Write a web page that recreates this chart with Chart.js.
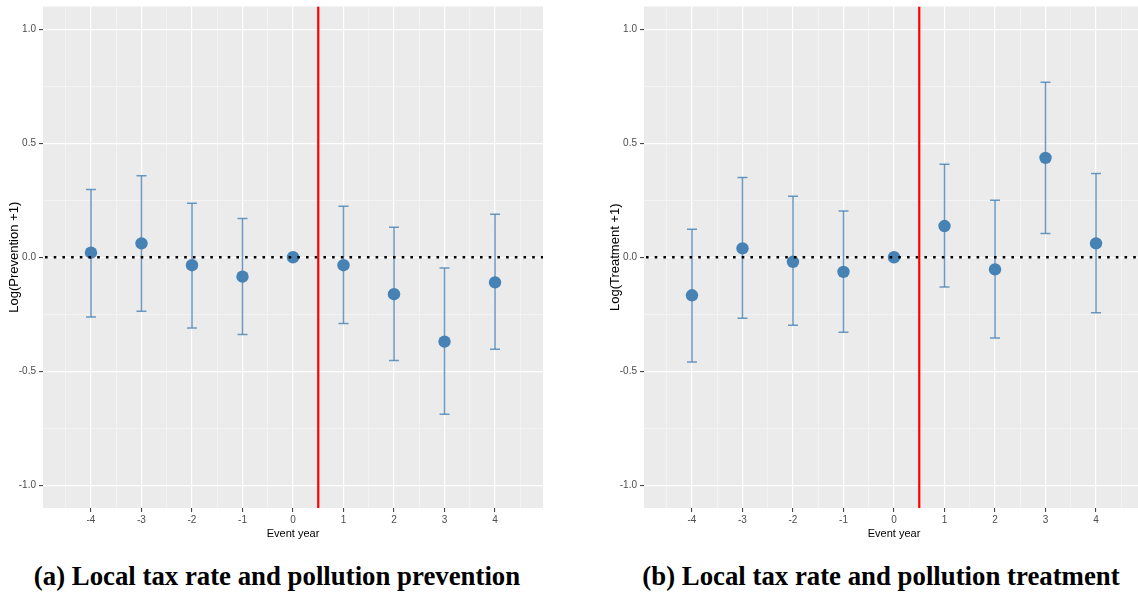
<!DOCTYPE html>
<html>
<head>
<meta charset="utf-8">
<script src="https://cdn.jsdelivr.net/npm/chart.js@4"></script>
<style>
  html, body { margin: 0; padding: 0; background: #fff; width: 1138px; height: 592px; overflow: hidden; }
  .panel { position: absolute; top: 0; }
  .caption { position: absolute; top: 560px; font: bold 26.8px "Liberation Serif", "Times New Roman", serif; line-height: 32px; color: #000; text-align: center; white-space: nowrap; }
</style>
</head>
<body>
<canvas id="prevention" class="panel" width="560" height="545" style="left:0px"></canvas>
<canvas id="treatment" class="panel" width="560" height="545" style="left:601px"></canvas>
<div class="caption" style="left:17px; width:520px;">(a) Local tax rate and pollution prevention</div>
<div class="caption" style="left:621px; width:520px;">(b) Local tax rate and pollution treatment</div>
<script>
// 数据
var eventYears = [-4, -3, -2, -1, 0, 1, 2, 3, 4];
var preventionEst = [0.020, 0.061, -0.035, -0.085, 0, -0.035, -0.162, -0.370, -0.110];
var preventionLo  = [-0.262, -0.237, -0.310, -0.339, 0, -0.291, -0.453, -0.689, -0.404];
var preventionHi  = [0.297, 0.358, 0.237, 0.170, 0, 0.224, 0.132, -0.047, 0.189];
var treatmentEst = [-0.167, 0.039, -0.020, -0.064, 0, 0.137, -0.053, 0.436, 0.061];
var treatmentLo  = [-0.460, -0.268, -0.298, -0.329, 0, -0.130, -0.354, 0.104, -0.244];
var treatmentHi  = [0.123, 0.350, 0.268, 0.203, 0, 0.408, 0.250, 0.768, 0.367];
var yTickValues = [-1.0, -0.75, -0.5, -0.25, 0, 0.25, 0.5, 0.75, 1.0];
var xTickValues = [-4.5, -4, -3.5, -3, -2.5, -2, -1.5, -1, -0.5, 0, 0.5, 1, 1.5, 2, 2.5, 3, 3.5, 4, 4.5];
var treatmentStart = 0.5;
var zeroLine = 0;

var steelblue = '#4682B4';

function isMajor(v, step) {
  var r = v / step;
  return Math.abs(r - Math.round(r)) < 1e-9;
}

// ggplot 风格的背景与参考线
var ggPanel = {
  id: 'ggPanel',
  beforeDraw: function(chart) {
    var a = chart.chartArea, ctx = chart.ctx;
    ctx.save();
    ctx.fillStyle = '#EBEBEB';
    ctx.fillRect(a.left, a.top, a.right - a.left, a.bottom - a.top);
    ctx.restore();
  },
  afterDatasetsDraw: function(chart) {
    var a = chart.chartArea, ctx = chart.ctx;
    var y0 = chart.scales.y.getPixelForValue(zeroLine);
    var xv = chart.scales.x.getPixelForValue(treatmentStart);
    ctx.save();
    ctx.beginPath();
    ctx.rect(a.left, a.top, a.right - a.left, a.bottom - a.top);
    ctx.clip();
    ctx.strokeStyle = '#000';
    ctx.lineWidth = 2.6;
    ctx.setLineDash([2.6, 6.1]);
    ctx.beginPath();
    ctx.moveTo(a.left + 2, y0);
    ctx.lineTo(a.right, y0);
    ctx.stroke();
    ctx.setLineDash([]);
    ctx.strokeStyle = '#FF0000';
    ctx.lineWidth = 2.2;
    ctx.beginPath();
    ctx.moveTo(xv, a.top);
    ctx.lineTo(xv, a.bottom);
    ctx.stroke();
    ctx.restore();
  }
};

function errorBarPoints(lo, hi) {
  var pts = [];
  for (var i = 0; i < eventYears.length; i++) {
    pts.push({x: eventYears[i], y: lo[i]});
    pts.push({x: eventYears[i], y: hi[i]});
    pts.push({x: eventYears[i], y: null});
  }
  return pts;
}

function makeChart(id, est, lo, hi, yTitle) {
  var ctx = document.getElementById(id).getContext('2d');
  var pts = eventYears.map(function(x, i) { return {x: x, y: est[i]}; });
  return new Chart(ctx, {
    type: 'scatter',
    data: {
      datasets: [{
        data: pts,
        pointRadius: 6.2,
        pointBackgroundColor: steelblue,
        pointBorderWidth: 0,
        showLine: false
      }, {
        data: errorBarPoints(lo, hi),
        showLine: true,
        spanGaps: false,
        borderColor: 'rgba(70,130,180,0.8)',
        borderWidth: 1.5,
        pointStyle: 'line',
        pointRadius: 5,
        pointBorderColor: 'rgba(70,130,180,0.8)',
        pointBorderWidth: 1.5
      }]
    },
    options: {
      responsive: false,
      animation: false,
      devicePixelRatio: 1,
      layout: { padding: { left: 0, top: 6, right: 17, bottom: 0 } },
      plugins: { legend: { display: false }, tooltip: { enabled: false } },
      scales: {
        x: {
          type: 'linear',
          min: -4.95,
          max: 4.95,
          afterBuildTicks: function(scale) { scale.ticks = xTickValues.map(function(v) { return {value: v}; }); },
          afterFit: function(scale) { scale.height = 37; scale.paddingLeft = 0; scale.paddingRight = 0; },
          border: { display: false },
          grid: {
            color: function(c) { return isMajor(c.tick.value, 1) ? '#FFFFFF' : '#F5F5F5'; },
            lineWidth: function(c) { return isMajor(c.tick.value, 1) ? 1.2 : 0.8; },
            tickColor: function(c) { return isMajor(c.tick.value, 1) ? '#333333' : 'rgba(0,0,0,0)'; },
            tickLength: 4,
            tickWidth: 1
          },
          ticks: {
            autoSkip: false,
            maxRotation: 0,
            padding: 2,
            color: '#4D4D4D',
            font: { family: 'Liberation Sans, Arial, sans-serif', size: 10 },
            callback: function(v) { return isMajor(v, 1) ? String(v) : ''; }
          },
          title: {
            display: true,
            text: 'Event year',
            color: '#000',
            font: { family: 'Liberation Sans, Arial, sans-serif', size: 11 },
            padding: { top: 0, bottom: 4 }
          }
        },
        y: {
          type: 'linear',
          min: -1.1,
          max: 1.1,
          afterBuildTicks: function(scale) { scale.ticks = yTickValues.map(function(v) { return {value: v}; }); },
          afterFit: function(scale) { scale.width = 43; scale.paddingTop = 0; scale.paddingBottom = 0; },
          border: { display: false },
          grid: {
            color: function(c) { return isMajor(c.tick.value, 0.5) ? '#FFFFFF' : '#F5F5F5'; },
            lineWidth: function(c) { return isMajor(c.tick.value, 0.5) ? 1.2 : 0.8; },
            tickColor: function(c) { return isMajor(c.tick.value, 0.5) ? '#333333' : 'rgba(0,0,0,0)'; },
            tickLength: 4,
            tickWidth: 1
          },
          ticks: {
            autoSkip: false,
            padding: 3,
            color: '#4D4D4D',
            font: { family: 'Liberation Sans, Arial, sans-serif', size: 10 },
            callback: function(v) { return isMajor(v, 0.5) ? v.toFixed(1) : ''; }
          },
          title: {
            display: true,
            text: yTitle,
            color: '#000',
            font: { family: 'Liberation Sans, Arial, sans-serif', size: 13 },
            padding: { top: 7, bottom: 0 }
          }
        }
      }
    },
    plugins: [ggPanel]
  });
}

makeChart('prevention', preventionEst, preventionLo, preventionHi, 'Log(Prevention +1)');
makeChart('treatment', treatmentEst, treatmentLo, treatmentHi, 'Log(Treatment +1)');
</script>
</body>
</html>
